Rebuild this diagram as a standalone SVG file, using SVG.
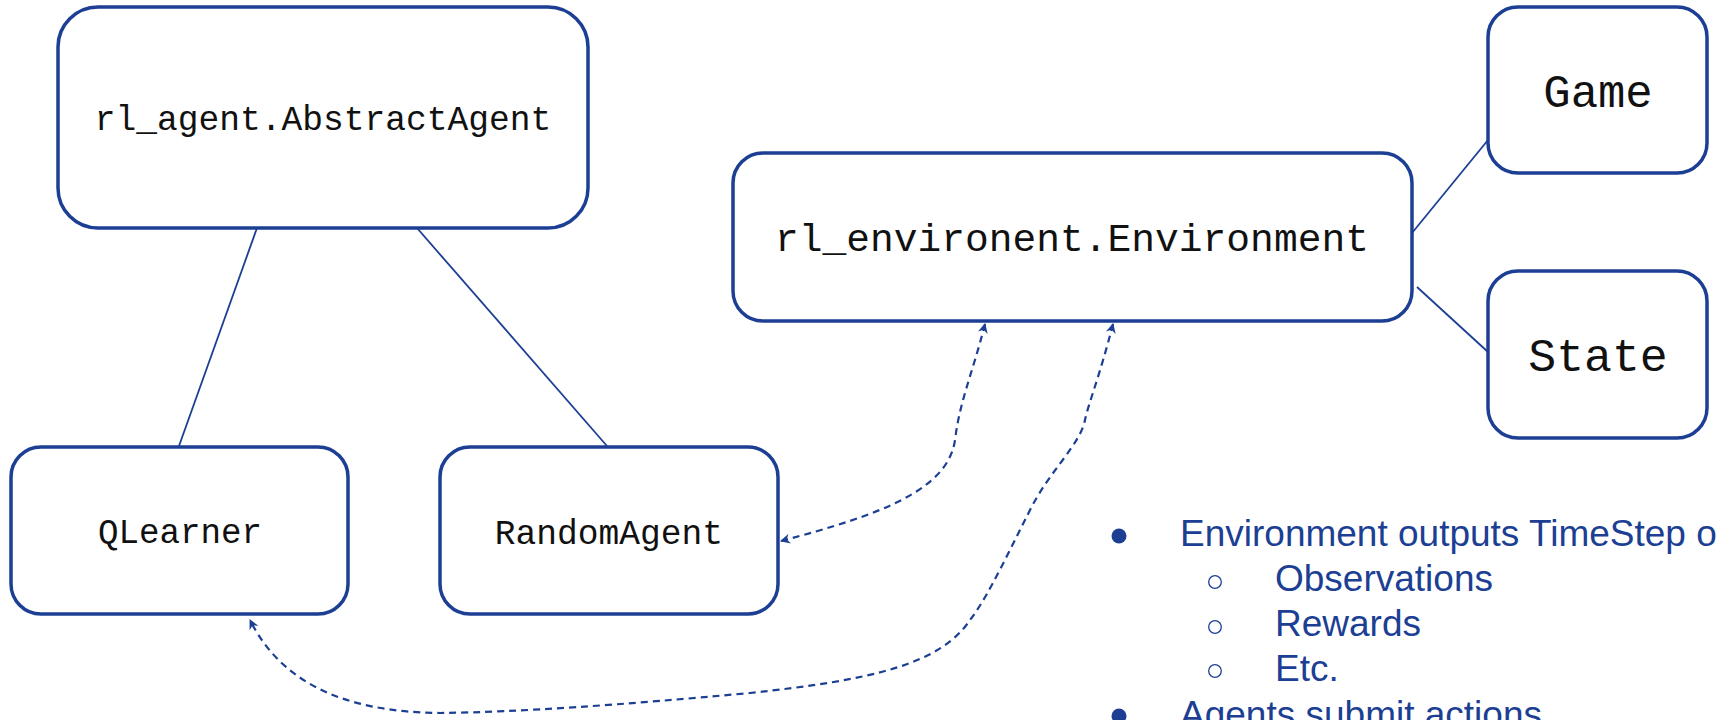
<svg xmlns="http://www.w3.org/2000/svg" width="1716" height="720" viewBox="0 0 1716 720">
<style>
.box{fill:#fff;stroke:#1c3f94;stroke-width:3.5}
.mono{font-family:"Liberation Mono","Courier New",monospace;fill:#111;text-anchor:middle;dominant-baseline:central}
.line{fill:none;stroke:#1c3f94;stroke-width:1.8}
.dash{fill:none;stroke:#1c3f94;stroke-width:2.2;stroke-dasharray:7 5}
.txt{font-family:"Liberation Sans",Arial,sans-serif;font-size:37px;fill:#1c3f94}
</style>
<defs>
<marker id="arr" viewBox="0 0 10 10" refX="9" refY="5" markerWidth="10" markerHeight="10" markerUnits="userSpaceOnUse" orient="auto-start-reverse">
<path d="M0,0 L10,5 L0,10 L3,5 z" fill="#1c3f94"/>
</marker>
</defs>
<g id="connectors">
<line class="line" x1="257" y1="228" x2="179" y2="446"/>
<line class="line" x1="417" y1="228" x2="607" y2="446"/>
<line class="line" x1="1412" y1="233" x2="1488" y2="140"/>
<line class="line" x1="1417" y1="287" x2="1488" y2="352"/>
<path class="dash" marker-start="url(#arr)" marker-end="url(#arr)" d="M985,324 C972,375 960,400 955,440 C948,490 880,515 781,541"/>
<path class="dash" marker-start="url(#arr)" marker-end="url(#arr)" d="M1113,324 C1100,375 1088,405 1085,420 C1080,445 1050,470 1030,510 C995,580 985,600 970,620 C940,665 870,680 750,693 C620,705 520,712 440,713 C340,712 280,680 250,620"/>
</g>
<g id="n-abstract">
<rect class="box" x="58" y="7" width="530" height="221" rx="40"/>
<text class="mono" x="323" y="120" font-size="34.6">rl_agent.AbstractAgent</text>
</g>
<g id="n-env">
<rect class="box" x="733" y="153" width="679" height="168" rx="30"/>
<text class="mono" x="1072" y="240" font-size="39.6">rl_environent.Environment</text>
</g>
<g id="n-game">
<rect class="box" x="1488" y="7" width="219" height="166" rx="30"/>
<text class="mono" x="1598" y="95" font-size="45.6">Game</text>
</g>
<g id="n-state">
<rect class="box" x="1488" y="271" width="219" height="167" rx="30"/>
<text class="mono" x="1598" y="358" font-size="46.5">State</text>
</g>
<g id="n-qlearner">
<rect class="box" x="11" y="447" width="337" height="167" rx="30"/>
<text class="mono" x="180" y="534" font-size="34.2">QLearner</text>
</g>
<g id="n-random">
<rect class="box" x="440" y="447" width="338" height="167" rx="30"/>
<text class="mono" x="609" y="534" font-size="34.6">RandomAgent</text>
</g>
<g id="bullets">
<circle cx="1119" cy="536" r="7.5" fill="#1c3f94"/>
<text class="txt" x="1180" y="546">Environment outputs TimeStep o</text>
<circle cx="1215" cy="582" r="6.3" fill="none" stroke="#1c3f94" stroke-width="1.3"/>
<text class="txt" x="1275" y="591">Observations</text>
<circle cx="1215" cy="627" r="6.3" fill="none" stroke="#1c3f94" stroke-width="1.3"/>
<text class="txt" x="1275" y="636">Rewards</text>
<circle cx="1215" cy="671" r="6.3" fill="none" stroke="#1c3f94" stroke-width="1.3"/>
<text class="txt" x="1275" y="681">Etc.</text>
<circle cx="1119" cy="716" r="7.5" fill="#1c3f94"/>
<text class="txt" x="1180" y="727">Agents submit actions</text>
</g>
</svg>
